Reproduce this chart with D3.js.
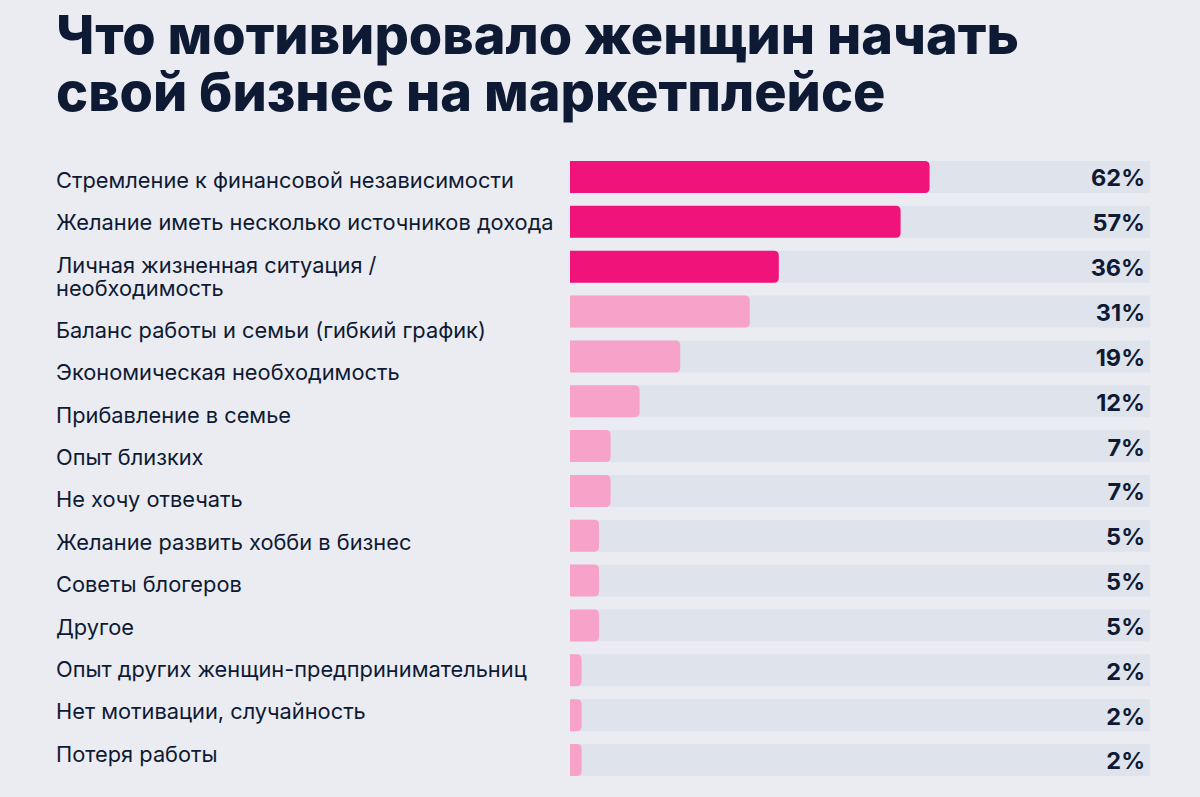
<!DOCTYPE html>
<html>
<head>
<meta charset="utf-8">
<script src="https://cdn.jsdelivr.net/npm/d3@7"></script>
<style>
  body { margin: 0; background: #ebecf2; }
  svg { display: block; }
</style>
</head>
<body>
<div id="chart"></div>
<script>
// survey answers, top to bottom
let categories = [
    "Стремление к финансовой независимости",
    "Желание иметь несколько источников дохода",
    "Личная жизненная ситуация /\nнеобходимость",
    "Баланс работы и семьи (гибкий график)",
    "Экономическая необходимость",
    "Прибавление в семье",
    "Опыт близких",
    "Не хочу отвечать",
    "Желание развить хобби в бизнес",
    "Советы блогеров",
    "Другое",
    "Опыт других женщин-предпринимательниц",
    "Нет мотивации, случайность",
    "Потеря работы"
];
let values = [62, 57, 36, 31, 19, 12, 7, 7, 5, 5, 5, 2, 2, 2];
// top three answers are highlighted
let groups = ["top", "top", "top", "rest", "rest", "rest", "rest", "rest", "rest", "rest", "rest", "rest", "rest", "rest"];
let titleLines = ["Что мотивировало женщин начать", "свой бизнес на маркетплейсе"];

let width = 1200;
let height = 797;
let ink = "#0e1a33";
let font = "Inter, 'Noto Sans', sans-serif";

let data = categories.map((c, i) => ({name: c, value: values[i], group: groups[i]}));

// labels are stacked as a list: each row 42.4px, each extra wrapped line 22.6px
let extra = 0;
data.forEach((d, i) => {
    d.lines = d.name.split("\n");
    d.labelY = 180 + 42.4 * i + 22.6 * extra;
    extra += d.lines.length - 1;
});

let svg = d3.select("#chart")
    .append("svg")
    .attr("width", width)
    .attr("height", height);

svg.append("rect")
    .attr("width", width)
    .attr("height", height)
    .attr("fill", "#ebecf2");

// title
svg.append("g")
    .selectAll("text")
    .data(titleLines)
    .enter()
    .append("text")
    .attr("x", 56)
    .attr("y", (d, i) => 54 + i * 57)
    .attr("fill", ink)
    .style("font-family", font)
    .style("font-weight", 800)
    .style("font-size", "54px")
    .text(d => d);

let x = d3.scaleLinear()
    .domain([0, 100])
    .range([570, 1150]);

let y = d3.scaleBand()
    .domain(categories)
    .range([161, 776])
    .paddingInner(0.2865)
    .paddingOuter(0);

let color = d3.scaleOrdinal()
    .domain(["top", "rest"])
    .range(["#ef137a", "#f7a3c9"]);

let rows = svg.append("g")
    .selectAll("g")
    .data(data)
    .enter()
    .append("g")
    .attr("transform", d => `translate(0,${y(d.name)})`);

// grey track behind each bar
rows.append("rect")
    .attr("x", x(0))
    .attr("width", x(100) - x(0))
    .attr("height", y.bandwidth())
    .attr("fill", "#dfe3ec");

// bar, square on the left, rounded on the right
function barPath(w, h, r) {
    r = Math.min(r, w / 2);
    return `M0,0 H${w - r} Q${w},0 ${w},${r} V${h - r} Q${w},${h} ${w - r},${h} H0 Z`;
}

rows.append("path")
    .attr("transform", `translate(${x(0)},0)`)
    .attr("d", d => barPath(x(d.value) - x(0), y.bandwidth(), 5))
    .attr("fill", d => color(d.group));

// value labels
rows.append("text")
    .attr("x", 1145)
    .attr("y", y.bandwidth() / 2 + 1)
    .attr("dominant-baseline", "central")
    .attr("text-anchor", "end")
    .attr("fill", ink)
    .style("font-family", font)
    .style("font-weight", 700)
    .style("font-size", "23.5px")
    .text(d => d.value + "%");

// category labels (one wraps to two lines)
svg.append("g")
    .selectAll("text")
    .data(data)
    .enter()
    .append("text")
    .attr("x", 56)
    .attr("y", d => d.labelY)
    .attr("dominant-baseline", "central")
    .attr("fill", ink)
    .style("font-family", font)
    .style("font-size", "21.8px")
    .each(function(d) {
        d3.select(this).selectAll("tspan")
            .data(d.lines)
            .enter()
            .append("tspan")
            .attr("x", 56)
            .attr("dy", (l, i) => i == 0 ? 0 : 23)
            .text(l => l);
    });
</script>
</body>
</html>
